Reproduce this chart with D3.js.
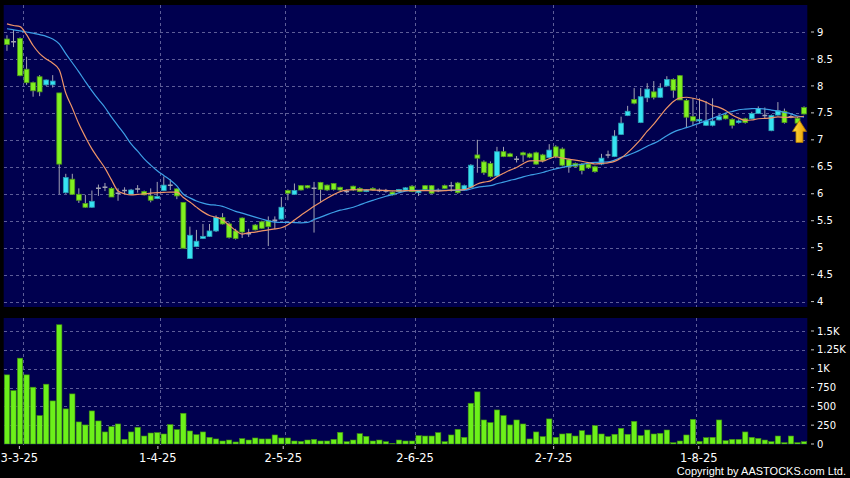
<!DOCTYPE html>
<html><head><meta charset="utf-8">
<script src="https://cdn.jsdelivr.net/npm/d3@7"></script>
<style>html,body{margin:0;padding:0;background:#000;}svg{display:block}</style>
</head><body>
<svg id="chart" width="850" height="478"></svg>
<script>
// ---- data (one entry per trading session, 26-2-25 .. 25-8-25) ----
const opens = [8.87,8.82,8.88,8.31,8.06,8.17,8.02,8.02,7.87,6.02,
 6.27,5.99,5.82,5.75,6.10,6.12,6.10,6.01,6.06,5.99,
 6.09,6.04,5.96,5.91,6.06,6.16,6.09,5.84,4.80,5.02,
 5.17,5.21,5.31,5.56,5.44,5.31,5.55,5.26,5.42,5.48,
 5.50,5.51,5.53,6.06,5.99,6.15,6.15,6.10,6.21,6.16,
 6.19,6.12,6.04,6.14,6.10,6.04,6.10,6.06,6.05,6.03,
 6.04,6.07,6.14,6.02,6.15,6.15,6.06,6.15,6.15,6.20,
 6.08,6.12,6.72,6.59,6.56,6.33,6.78,6.74,6.64,6.76,
 6.74,6.76,6.72,6.67,6.87,6.83,6.63,6.56,6.55,6.55,
 6.50,6.55,6.72,6.69,7.10,7.45,7.75,7.32,7.78,7.89,
 7.79,8.00,8.12,8.19,7.73,7.43,7.35,7.27,7.27,7.37,
 7.46,7.38,7.32,7.39,7.39,7.49,7.45,7.17,7.46,7.53,
 7.43,7.40,7.60];
const highs = [8.94,9.04,8.90,8.54,8.08,8.20,8.12,8.20,7.87,6.37,
 6.37,6.10,5.98,6.06,6.17,6.20,6.12,6.10,6.12,6.09,
 6.16,6.06,6.10,6.22,6.32,6.27,6.10,5.84,5.39,5.33,
 5.44,5.44,5.60,5.64,5.47,5.35,5.56,5.35,5.44,5.50,
 5.58,5.58,5.94,6.08,6.19,6.16,6.16,6.22,6.22,6.17,
 6.20,6.13,6.08,6.15,6.12,6.08,6.12,6.10,6.09,6.04,
 6.09,6.12,6.16,6.07,6.16,6.16,6.10,6.17,6.22,6.22,
 6.17,6.55,7.00,6.62,6.60,6.87,6.87,6.76,6.70,6.78,
 6.76,6.78,6.74,6.92,6.90,6.86,6.65,6.58,6.57,6.56,
 6.52,6.74,6.80,7.18,7.43,7.63,7.96,7.96,8.05,8.09,
 8.05,8.18,8.14,8.20,7.76,7.77,7.77,7.72,7.77,7.48,
 7.50,7.40,7.38,7.41,7.52,7.62,7.60,7.47,7.70,7.58,
 7.47,7.42,7.62];
const lows = [8.65,8.72,8.18,8.02,7.80,7.81,8.00,7.97,5.99,6.00,
 5.98,5.83,5.74,5.74,5.96,6.05,5.94,5.87,5.99,5.98,
 6.02,5.97,5.84,5.90,6.05,6.07,5.90,4.99,4.79,5.01,
 5.16,5.20,5.29,5.43,5.17,5.15,5.18,5.20,5.32,5.35,
 5.03,5.34,5.52,5.88,5.98,6.06,6.10,5.28,5.85,6.05,
 6.06,6.05,6.01,6.05,6.03,6.03,6.06,6.03,6.02,5.97,
 6.02,6.05,6.03,5.96,6.07,6.00,6.03,6.09,6.04,6.00,
 6.06,6.11,6.39,6.35,6.30,6.32,6.68,6.68,6.58,6.59,
 6.66,6.54,6.58,6.66,6.66,6.51,6.39,6.49,6.36,6.46,
 6.39,6.53,6.66,6.68,7.09,7.44,7.66,7.31,7.70,7.75,
 7.78,7.99,7.78,7.74,7.22,7.26,7.30,7.26,7.25,7.36,
 7.38,7.21,7.30,7.30,7.38,7.48,7.40,7.16,7.45,7.30,
 7.40,7.30,7.47];
const closes = [8.77,8.82,8.19,8.06,7.91,7.89,8.11,8.09,6.55,6.30,
 5.99,5.88,5.75,5.86,6.10,6.12,5.94,6.01,6.06,6.07,
 6.09,5.98,5.88,5.95,6.16,6.16,5.96,4.99,5.23,5.12,
 5.21,5.31,5.56,5.44,5.19,5.17,5.29,5.26,5.33,5.36,
 5.39,5.51,5.75,6.01,6.06,6.07,6.11,6.10,6.08,6.07,
 6.08,6.07,6.04,6.07,6.04,6.07,6.07,6.06,6.05,5.98,
 6.08,6.11,6.04,6.06,6.08,6.01,6.06,6.10,6.15,6.02,
 6.15,6.53,6.66,6.39,6.32,6.78,6.69,6.69,6.64,6.72,
 6.68,6.55,6.61,6.81,6.69,6.53,6.50,6.51,6.43,6.48,
 6.41,6.66,6.72,7.07,7.31,7.53,7.68,7.80,7.94,7.79,
 7.96,8.12,7.92,7.74,7.42,7.35,7.38,7.35,7.35,7.43,
 7.39,7.27,7.35,7.32,7.49,7.58,7.45,7.45,7.54,7.32,
 7.43,7.31,7.48];
const volumes = [918,709,1139,918,754,377,794,572,1583,466,
 665,293,253,439,306,160,230,266,62,160,
 222,106,146,151,133,257,191,408,173,124,
 160,89,67,40,53,27,71,53,80,67,
 67,120,80,80,40,35,53,62,40,40,
 62,155,31,53,137,102,40,53,31,9,
 53,40,40,111,106,106,151,31,120,195,
 89,541,692,319,284,452,377,253,319,266,
 67,160,98,333,89,133,142,106,177,120,
 244,133,98,129,208,129,301,111,186,133,
 142,186,18,40,120,328,35,84,89,319,
 44,62,62,160,89,75,53,31,106,18,
 106,18,31];
// moving averages for the first sessions (window starts before the chart)
const ma10Head = [9.15,9.12,9.10,8.95,8.75,8.60,8.50,8.42,8.30];
const ma20Head = [9.06,9.04,9.02,9.00,8.98,8.95,8.92,8.87,8.78,8.60,8.43,8.26,8.08,7.91,7.75,7.60,7.42,7.26,7.10];
const dateTickIndex = [3,24,43,63,84,106];
const dateTickLabels = ["3-3-25","1-4-25","2-5-25","2-6-25","2-7-25","1-8-25"];
const priceTicks = [4,4.5,5,5.5,6,6.5,7,7.5,8,8.5,9];
const priceTickLabels = ["4","4.5","5","5.5","6","6.5","7","7.5","8","8.5","9"];
const volTicks = [0,250,500,750,1000,1250,1500];
const volTickLabels = ["0","250","500","750","1K","1.25K","1.5K"];
const arrowMark = {index:121.3, price:7.36};

// ---- layout ----
const W = 850, H = 478;
const plotL = 3.7, plotR = 807.3;
const pTop = 5, pBot = 307;
const vTop = 318, vBot = 444.5;
const n = closes.length;
const idx = d3.range(n);

const svg = d3.select("#chart");
svg.append("rect").attr("width",W).attr("height",H).attr("fill","#000");

const xb = d3.scaleBand().domain(idx).range([plotL, plotR]).padding(0);
const xc = i => xb(i) + xb.bandwidth()/2;
const xAxisScale = d3.scaleLinear().domain([0, n]).range([-0.4, 810.9]);
const yP = d3.scaleLinear().domain([4, 9]).range([301.6, 32]);
const yV = d3.scaleLinear().domain([0, 1500]).range([444, 331]);

const gridCol = "#5d5d98";
const defs = svg.append("defs");
defs.append("clipPath").attr("id","cp").append("rect")
  .attr("x",plotL).attr("y",pTop).attr("width",plotR-plotL).attr("height",pBot-pTop);
defs.append("clipPath").attr("id","cv").append("rect")
  .attr("x",plotL).attr("y",vTop).attr("width",plotR-plotL).attr("height",vBot-vTop);
const grad = defs.append("linearGradient").attr("id","ag").attr("x1","0").attr("x2","1").attr("y1","0").attr("y2","0");
grad.append("stop").attr("offset","0").attr("stop-color","#ffe040");
grad.append("stop").attr("offset","1").attr("stop-color","#e89a00");

// panels
svg.append("rect").attr("x",plotL).attr("y",pTop).attr("width",plotR-plotL).attr("height",pBot-pTop).attr("fill","#00004f");
svg.append("rect").attr("x",plotL).attr("y",vTop).attr("width",plotR-plotL).attr("height",vBot-vTop).attr("fill","#00004f");

// grid
const grid = svg.append("g").attr("stroke",gridCol).attr("stroke-width",1).attr("stroke-dasharray","3,3").attr("shape-rendering","crispEdges");
grid.selectAll("line.hp").data(priceTicks).join("line")
  .attr("x1",plotL).attr("x2",plotR).attr("y1",d=>Math.round(yP(d))+0.5).attr("y2",d=>Math.round(yP(d))+0.5);
grid.selectAll("line.hv").data(volTicks.filter(d=>d>0)).join("line").attr("class","hv")
  .attr("x1",plotL).attr("x2",plotR).attr("y1",d=>Math.round(yV(d))+0.5).attr("y2",d=>Math.round(yV(d))+0.5);
dateTickIndex.forEach(i=>{
  const gx = Math.round(xb(i))+0.5;
  grid.append("line").attr("x1",gx).attr("x2",gx).attr("y1",pTop).attr("y2",pBot);
  grid.append("line").attr("x1",gx).attr("x2",gx).attr("y1",vTop).attr("y2",vBot);
});

// candles
const bw = xb.bandwidth()*0.74;
const upCol = "#36e3f2", upStroke = "#2a9fb5";
const dnCol = "#80f020", dnStroke = "#4f9a1c";
const gc = svg.append("g").attr("clip-path","url(#cp)");
gc.selectAll("line.wick").data(idx).join("line").attr("class","wick")
  .attr("x1",i=>xc(i)).attr("x2",i=>xc(i))
  .attr("y1",i=>yP(highs[i])).attr("y2",i=>yP(lows[i]))
  .attr("stroke","#a3a3b3").attr("stroke-width",1);
gc.selectAll("rect.body").data(idx.filter(i=>Math.abs(opens[i]-closes[i])>=0.015)).join("rect").attr("class","body")
  .attr("x",i=>xc(i)-bw/2).attr("width",bw)
  .attr("y",i=>yP(Math.max(opens[i],closes[i])))
  .attr("height",i=>Math.max(1,Math.abs(yP(opens[i])-yP(closes[i]))))
  .attr("fill",i=>closes[i]>opens[i]?upCol:dnCol)
  .attr("stroke",i=>closes[i]>opens[i]?upStroke:dnStroke).attr("stroke-width",0.8);
gc.selectAll("line.doji").data(idx.filter(i=>Math.abs(opens[i]-closes[i])<0.015)).join("line").attr("class","doji")
  .attr("x1",i=>xc(i)-bw/2).attr("x2",i=>xc(i)+bw/2)
  .attr("y1",i=>yP(closes[i])).attr("y2",i=>yP(closes[i]))
  .attr("stroke","#a3a3b3").attr("stroke-width",1.5);

// moving averages
function movingAvg(head, win){
  return idx.map(i => i < head.length ? head[i] : d3.mean(closes.slice(i-win+1, i+1)));
}
const ma10 = movingAvg(ma10Head, 10), ma20 = movingAvg(ma20Head, 20);
const line = d3.line().x((d,i)=>xc(i)).y(d=>yP(d)).curve(d3.curveMonotoneX);
gc.append("path").datum(ma20).attr("d",line).attr("fill","none").attr("stroke","#3d9fe6").attr("stroke-width",1.2);
gc.append("path").datum(ma10).attr("d",line).attr("fill","none").attr("stroke","#ee9468").attr("stroke-width",1.2);

// arrow marker
const ax = d3.scaleLinear().domain([0,n-1]).range([xc(0), xc(n-1)])(arrowMark.index);
const ay = yP(arrowMark.price);
svg.append("path")
  .attr("d",`M${ax},${ay} L${ax+7},${ay+11} L${ax+3.5},${ay+11} L${ax+3.5},${ay+22} L${ax-3.5},${ay+22} L${ax-3.5},${ay+11} L${ax-7},${ay+11} Z`)
  .attr("fill","url(#ag)").attr("stroke","#b07800").attr("stroke-width",0.8);

// volume bars
const vbw = xb.bandwidth()*0.82;
svg.append("g").attr("clip-path","url(#cv)").selectAll("rect").data(idx).join("rect")
  .attr("x",i=>xc(i)-vbw/2).attr("width",vbw)
  .attr("y",i=>yV(volumes[i])).attr("height",i=>yV(0)-yV(volumes[i]))
  .attr("fill","#6cf01a").attr("stroke","#3e8a12").attr("stroke-width",0.6);

// right axes
const font = "DejaVu Sans, Verdana, sans-serif";
const ax1 = svg.append("g").attr("fill","#fff").attr("font-family",font).attr("font-size","10px");
priceTicks.forEach((t,k)=>{
  svg.append("line").attr("x1",811).attr("x2",814).attr("y1",yP(t)).attr("y2",yP(t)).attr("stroke","#ccc");
  ax1.append("text").attr("x",817).attr("y",yP(t)+3.6).text(priceTickLabels[k]);
});
volTicks.forEach((t,k)=>{
  svg.append("line").attr("x1",811).attr("x2",814).attr("y1",yV(t)).attr("y2",yV(t)).attr("stroke","#ccc");
  ax1.append("text").attr("x",817).attr("y",yV(t)+3.6).text(volTickLabels[k]);
});

// date axis
const gx = svg.append("g").attr("fill","#fff").attr("font-family",font).attr("font-size","11.5px");
dateTickIndex.forEach((d,k)=>{
  const px = xAxisScale(d);
  svg.append("line").attr("x1",px).attr("x2",px).attr("y1",446).attr("y2",449).attr("stroke","#ccc");
  gx.append("text").attr("x",px).attr("y",462).attr("text-anchor","middle").text(dateTickLabels[k]);
});

svg.append("text").attr("x",846).attr("y",475).attr("text-anchor","end")
  .attr("fill","#fff").attr("font-family","Liberation Sans, Arial, sans-serif").attr("font-size","11px")
  .text("Copyright by AASTOCKS.com Ltd.");
</script>
</body></html>
